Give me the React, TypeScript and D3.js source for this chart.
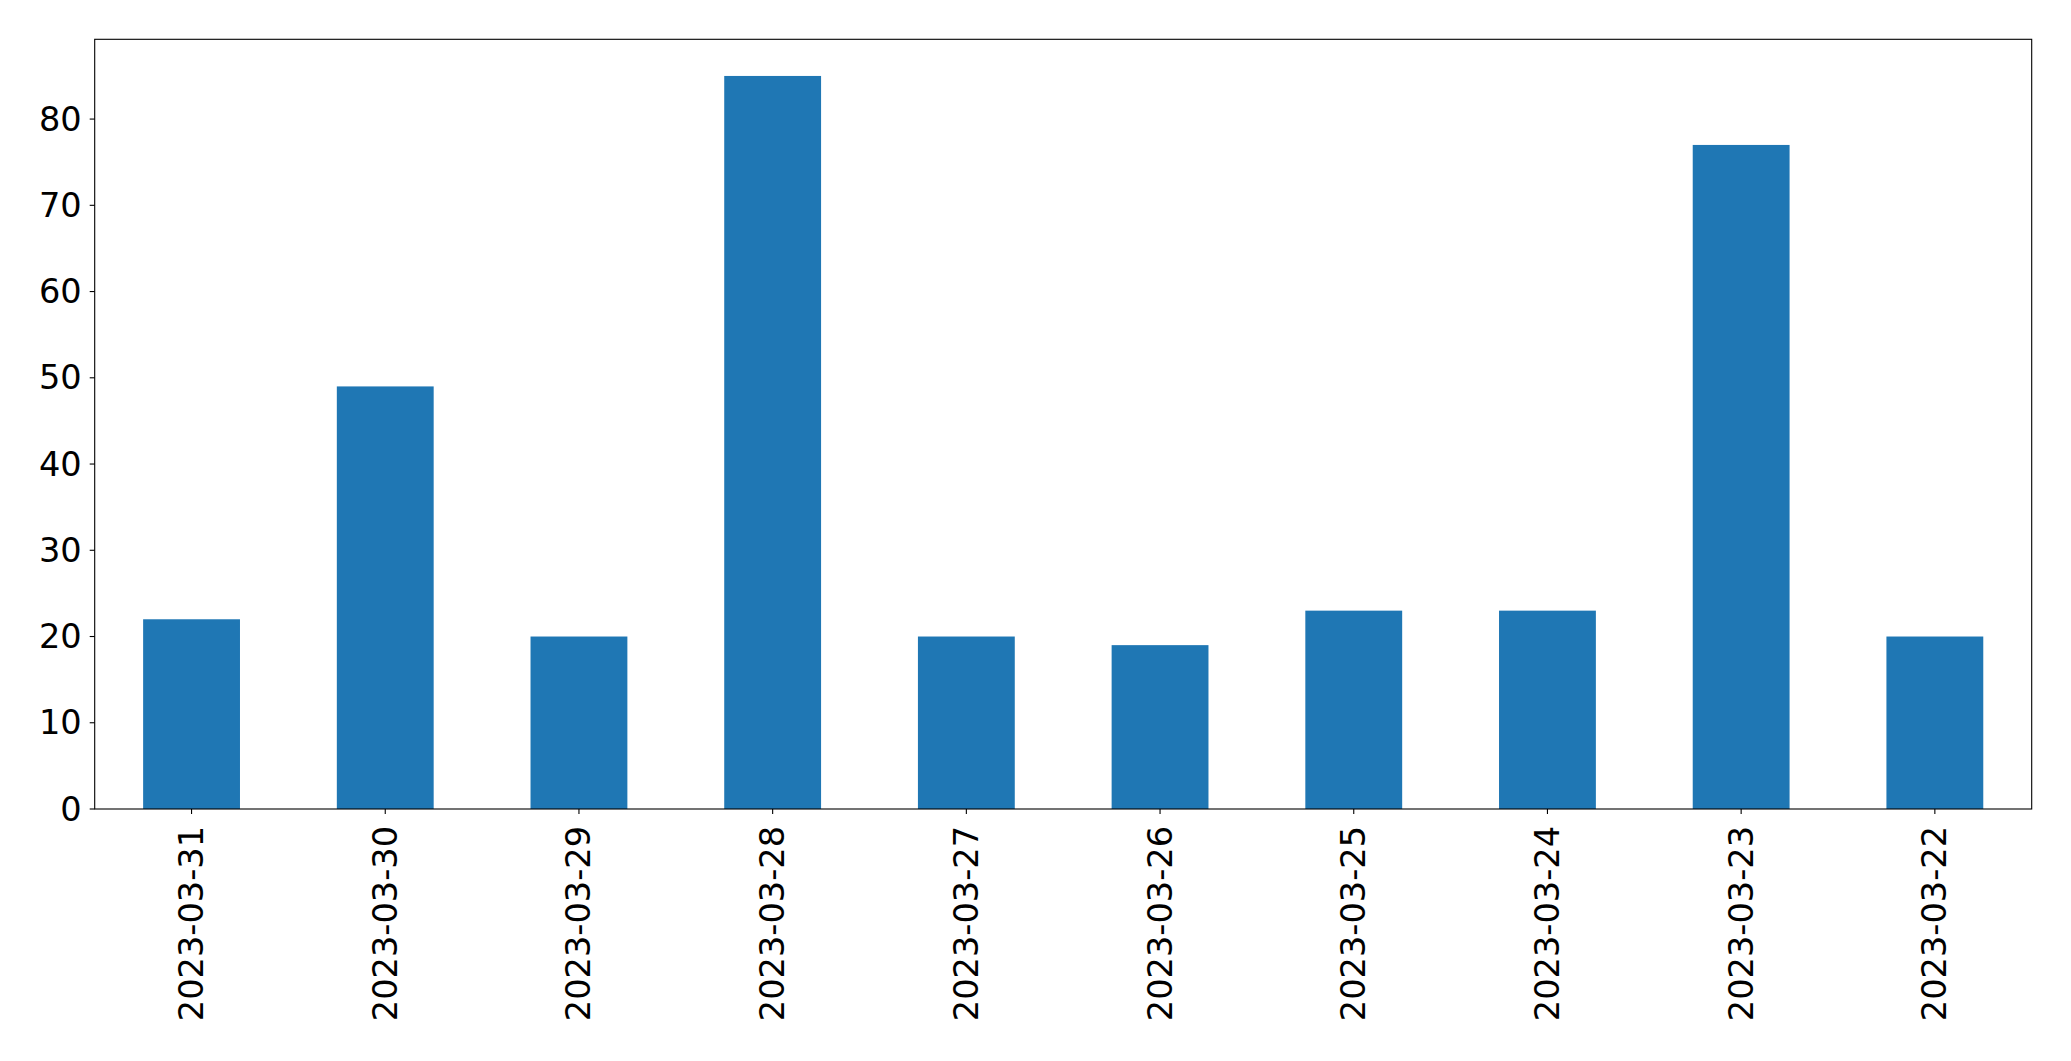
import React from "react";
import * as d3 from "d3";

const categories = ["2023-03-31","2023-03-30","2023-03-29","2023-03-28","2023-03-27","2023-03-26","2023-03-25","2023-03-24","2023-03-23","2023-03-22"];
const values = [22, 49, 20, 85, 20, 19, 23, 23, 77, 20];
const yTicks = [0, 10, 20, 30, 40, 50, 60, 70, 80];

export default function App() {
  const W = 2071, H = 1061;
  const left = 94.7, right = 2031.7, top = 39.3, bottom = 809;
  const x = d3.scaleBand<string>().domain(categories).range([left, right]).paddingInner(0.5).paddingOuter(0.25);
  const ymax = d3.max(values)! * 1.05;
  const y = d3.scaleLinear().domain([0, ymax]).range([bottom, top]);
  const font = "DejaVu Sans";
  const fs = 33.6;
  return (
    <svg width={W} height={H} style={{ position: "absolute", left: 0, top: 0 }}>
      <rect x={0} y={0} width={W} height={H} fill="#fff" />
      {values.map((v, i) => (
        <rect key={i} x={x(categories[i])!} y={y(v)} width={x.bandwidth()} height={bottom - y(v)} fill="#1f77b4" />
      ))}
      <rect x={left} y={top} width={right - left} height={bottom - top} fill="none" stroke="#000" strokeWidth={1.1} />
      {yTicks.map((t) => (
        <g key={t}>
          <line x1={left - 5} x2={left} y1={y(t)} y2={y(t)} stroke="#000" strokeWidth={1.1} />
          <text x={left - 13} y={y(t)} textAnchor="end" dominantBaseline="central" fontFamily={font} fontSize={fs} fill="#000">{t}</text>
        </g>
      ))}
      {categories.map((c) => {
        const cx = x(c)! + x.bandwidth() / 2;
        return (
          <g key={c}>
            <line x1={cx} x2={cx} y1={bottom} y2={bottom + 5} stroke="#000" strokeWidth={1.1} />
            <text transform={`translate(${cx},${bottom + 17}) rotate(-90)`} textAnchor="end" dominantBaseline="central" fontFamily={font} fontSize={fs} fill="#000">{c}</text>
          </g>
        );
      })}
    </svg>
  );
}
